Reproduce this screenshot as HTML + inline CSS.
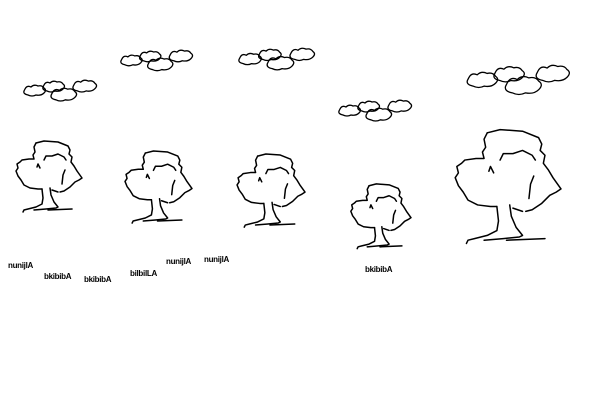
<!DOCTYPE html>
<html><head><meta charset="utf-8"><style>
html,body{margin:0;padding:0;background:#fff;}
svg{display:block;}
text{font-family:"Liberation Sans",sans-serif;font-size:8px;font-weight:bold;fill:#000;letter-spacing:-0.3px;}
#tree path{vector-effect:non-scaling-stroke;}
#cloud path{vector-effect:non-scaling-stroke;}
</style></head><body>
<svg id="scene" width="597" height="400" viewBox="0 0 597 400" xmlns="http://www.w3.org/2000/svg">
<defs>
<g id="tree" fill="none" stroke="#000" stroke-width="1.5" stroke-linejoin="round" stroke-linecap="round">
<path d="M22,3 L30,1 L44,2 L54,6 L56,10 L55,14 L58,17 L57,22 L60,26 L63,31 L68,38 L65,40 L61,42 L56,47 L50,51 L46,52"/>
<path d="M22,3 L20,7 L21,12 L19,15 L20,19 L15,19 L8,20 L6,22 L3,24 L4,28 L2,31 L4,36 L7,40 L10,45 L16,48 L24,49 L28,49"/>
<path d="M30,20 L32,16 L38,16 L44,14 L50,17 L52,20"/>
<path d="M23,27 L24,24 L26,28"/>
<path d="M51,30 L49,35 L48,44"/>
<path d="M28,49 L29,58 L28,64 L22,67 L14,69 L10,70 L9,72"/>
<path d="M36,48 L37,55 L40,62 L44,67 L42,68 L32,69 L20,70"/>
<path d="M34,70 L58,69"/>
<path d="M38,50 L44,52"/>
</g>
<g id="cloud" fill="none" stroke="#000" stroke-width="1.3" stroke-linejoin="round">
<path d="M2,4 Q4,0 8,2 Q11,-1 15,1 Q19,0 21,3 Q24,5 21,8 Q18,11 13,10 Q9,12 5,10 Q0,9 1,6 Z"/>
</g>
</defs>
<g id="layer"></g>
</svg>
<script>
// tree sizes (width px) and anchors
const treeX = [14,123,235,349,452];
const treeY = [140,150,153,183,128];
const treeW = [68,69,70,62,109];
// cloud groups
const cloudGroupX = [23,120,238,338,466];
const cloudGroupY = [80,50,48,100,65];
const cloudGroupW = [74,73,77,74,104];
const labelText = ["nunijlA","bkibibA","bkibibA","bilbilLA","nunijlA","nunijlA","bkibibA"];
const labelX = [8,44,84,130,166,204,365];
const labelY = [268,279,282,276,264,262,272];

const NS="http://www.w3.org/2000/svg";
const layer=document.getElementById('layer');
const cloudOffsets=[[0,5,22],[19,1,22],[27,8,26],[49,0,24]];
for(let i=0;i<treeX.length;i++){
  const u=document.createElementNS(NS,'use');
  u.setAttribute('href','#tree');
  const s=treeW[i]/68;
  u.setAttribute('transform','translate('+treeX[i]+','+treeY[i]+') scale('+s+')');
  
  
  layer.appendChild(u);
}
for(let i=0;i<cloudGroupX.length;i++){
  const g=document.createElementNS(NS,'g');
  
  
  const s=cloudGroupW[i]/74;
  g.setAttribute('transform','translate('+cloudGroupX[i]+','+cloudGroupY[i]+') scale('+s+')');
  cloudOffsets.forEach(function(o){
    const u=document.createElementNS(NS,'use');
    u.setAttribute('href','#cloud');
    u.setAttribute('transform','translate('+o[0]+','+o[1]+') scale('+(o[2]/22)+')');
    
    
    g.appendChild(u);
  });
  layer.appendChild(g);
}
for(let i=0;i<labelText.length;i++){
  const t=document.createElementNS(NS,'text');
  t.setAttribute('x',labelX[i]);
  t.setAttribute('y',labelY[i]);
  t.textContent=labelText[i];
  
  
  layer.appendChild(t);
}
</script>
</body></html>
